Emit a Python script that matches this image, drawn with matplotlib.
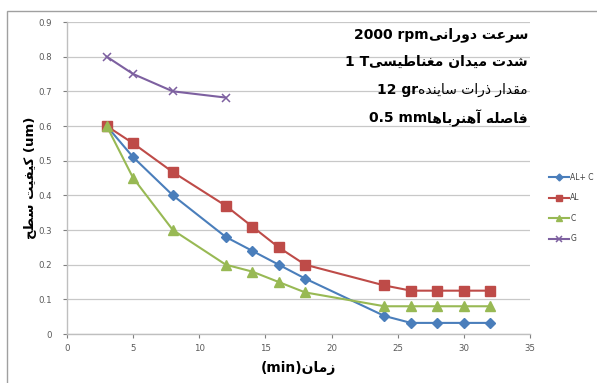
import matplotlib
matplotlib.use("Agg")
import matplotlib.pyplot as plt
from matplotlib.patches import Rectangle

# ---------------- data ----------------
x_time = [3, 5, 8, 12, 14, 16, 18, 24, 26, 28, 30, 32]
al_c = [0.6, 0.51, 0.40, 0.28, 0.24, 0.20, 0.16, 0.052, 0.032, 0.032, 0.032, 0.032]
al = [0.6, 0.55, 0.467, 0.37, 0.31, 0.25, 0.20, 0.14, 0.125, 0.125, 0.125, 0.125]
c = [0.6, 0.45, 0.30, 0.20, 0.18, 0.15, 0.12, 0.08, 0.08, 0.08, 0.08, 0.08]
x_g = [3, 5, 8, 12]
g = [0.80, 0.75, 0.70, 0.682]
series_labels = ["AL+ C", "AL", "C", "G"]
x_ticks = [0, 5, 10, 15, 20, 25, 30, 35]
y_ticks = [0, 0.1, 0.2, 0.3, 0.4, 0.5, 0.6, 0.7, 0.8, 0.9]
y_tick_labels = ["0", "0.1", "0.2", "0.3", "0.4", "0.5", "0.6", "0.7", "0.8", "0.9"]

# annotation text: (persian part, latin part)
notes = [("سرعت دورانی", "2000 rpm"),
         ("شدت میدان مغناطیسی", "1 T"),
         ("مقدار ذرات ساینده", "12 gr"),
         ("فاصله آهنرباها", "0.5 mm")]
xlabel_fa, xlabel_lat = "زمان", "(min)"
ylabel_fa, ylabel_lat = "کیفیت سطح", "(um)"

# ---------------- minimal Arabic/Persian shaping ----------------
FORMS = {  # isolated, final, initial, medial
    'ا': ('\uFE8D', '\uFE8E', None, None),
    'آ': ('\uFE81', '\uFE82', None, None),
    'ب': ('\uFE8F', '\uFE90', '\uFE91', '\uFE92'),
    'ت': ('\uFE95', '\uFE96', '\uFE97', '\uFE98'),
    'ح': ('\uFEA1', '\uFEA2', '\uFEA3', '\uFEA4'),
    'د': ('\uFEA9', '\uFEAA', None, None),
    'ذ': ('\uFEAB', '\uFEAC', None, None),
    'ر': ('\uFEAD', '\uFEAE', None, None),
    'ز': ('\uFEAF', '\uFEB0', None, None),
    'س': ('\uFEB1', '\uFEB2', '\uFEB3', '\uFEB4'),
    'ش': ('\uFEB5', '\uFEB6', '\uFEB7', '\uFEB8'),
    'ص': ('\uFEB9', '\uFEBA', '\uFEBB', '\uFEBC'),
    'ط': ('\uFEC1', '\uFEC2', '\uFEC3', '\uFEC4'),
    'ع': ('\uFEC9', '\uFECA', '\uFECB', '\uFECC'),
    'غ': ('\uFECD', '\uFECE', '\uFECF', '\uFED0'),
    'ف': ('\uFED1', '\uFED2', '\uFED3', '\uFED4'),
    'ق': ('\uFED5', '\uFED6', '\uFED7', '\uFED8'),
    'ل': ('\uFEDD', '\uFEDE', '\uFEDF', '\uFEE0'),
    'م': ('\uFEE1', '\uFEE2', '\uFEE3', '\uFEE4'),
    'ن': ('\uFEE5', '\uFEE6', '\uFEE7', '\uFEE8'),
    'ه': ('\uFEE9', '\uFEEA', '\uFEEB', '\uFEEC'),
    'و': ('\uFEED', '\uFEEE', None, None),
    'ی': ('\uFBFC', '\uFBFD', '\uFBFE', '\uFBFF'),
    'ک': ('\uFB8E', '\uFB8F', '\uFB90', '\uFB91'),
}


def shape_rtl(text):
    out = []
    n = len(text)
    for i, ch in enumerate(text):
        if ch not in FORMS:
            out.append(ch)
            continue
        f = FORMS[ch]
        prev = text[i - 1] if i > 0 else None
        nxt = text[i + 1] if i + 1 < n else None
        join_prev = prev in FORMS and FORMS[prev][2] is not None
        join_next = f[2] is not None and nxt in FORMS
        if join_prev and join_next:
            out.append(f[3])
        elif join_prev:
            out.append(f[1])
        elif join_next:
            out.append(f[2])
        else:
            out.append(f[0])
    return ''.join(reversed(out))


# ---------------- figure ----------------
W, H = 597, 383
fig = plt.figure(figsize=(W / 100, H / 100), dpi=100)
fig.patch.set_facecolor('white')
fig.add_artist(Rectangle((7 / W, -0.05), 1.2, 1 - 11 / H + 0.05,
                         transform=fig.transFigure, fill=False,
                         edgecolor='#a0a0a0', linewidth=1.0))

ax = fig.add_axes([67 / W, 1 - 334 / H, (530 - 67) / W, (334 - 22) / H])
ax.set_xlim(0, 35)
ax.set_ylim(0, 0.9)
ax.set_xticks(x_ticks)
ax.set_xticklabels([str(t) for t in x_ticks])
ax.set_yticks(y_ticks)
ax.set_yticklabels(y_tick_labels)
ax.tick_params(axis='both', labelsize=6.2, colors='#7f7f7f', labelcolor='#595959',
               length=3, width=0.8, direction='out')
ax.tick_params(axis='x', pad=4)
ax.tick_params(axis='y', pad=8)
for s in ['top', 'right']:
    ax.spines[s].set_visible(False)
for s in ['left', 'bottom']:
    ax.spines[s].set_color('#bfbfbf')
    ax.spines[s].set_linewidth(1.0)
ax.yaxis.grid(True, color='#c8c8c8', linewidth=0.9)
ax.set_axisbelow(True)

blue, red, green, purple = '#4a7ebb', '#be4b48', '#98b954', '#7d60a0'
lw = 1.5
h1, = ax.plot(x_time, al_c, color=blue, lw=lw, marker='D', ms=5, mfc=blue, mec=blue, label=series_labels[0])
h2, = ax.plot(x_time, al, color=red, lw=lw, marker='s', ms=6.5, mfc=red, mec=red, label=series_labels[1])
h3, = ax.plot(x_time, c, color=green, lw=lw, marker='^', ms=6.5, mfc=green, mec=green, label=series_labels[2])
h4, = ax.plot(x_g, g, color=purple, lw=lw, marker='x', ms=6, mew=1.1, label=series_labels[3])

leg = fig.legend(handles=[h1, h2, h3, h4], loc='upper left',
                 bbox_to_anchor=(542 / W, 1 - 166 / H), frameon=False,
                 fontsize=5.5, handlelength=2.6, handletextpad=0.2,
                 labelspacing=1.5, markerscale=0.7)
for t in leg.get_texts():
    t.set_color('#404040')

# annotations
fig.canvas.draw()
renderer = fig.canvas.get_renderer()
line_y = [35, 62, 90, 118]
right_x = 528
for (fa, lat), yy in zip(notes, line_y):
    weight_fa = 'normal' if lat == "12 gr" else 'bold'
    t = fig.text(right_x / W, 1 - yy / H, shape_rtl(fa), ha='right', va='center',
                 fontsize=10, fontweight=weight_fa, color='black', family='DejaVu Sans')
    bb = t.get_window_extent(renderer)
    fig.text(bb.x0 / W, 1 - yy / H, lat, ha='right', va='center',
             fontsize=10, fontweight='bold', color='black', family='DejaVu Sans')

# x label
ax.set_xlabel(xlabel_lat + shape_rtl(xlabel_fa), fontsize=10, fontweight='bold',
              color='black', labelpad=6)
# y label
ax.set_ylabel(shape_rtl(ylabel_fa) + ' ' + ylabel_lat, fontsize=9.5, fontweight='bold',
              color='black', labelpad=1)

fig.savefig('out.png', dpi=100)
